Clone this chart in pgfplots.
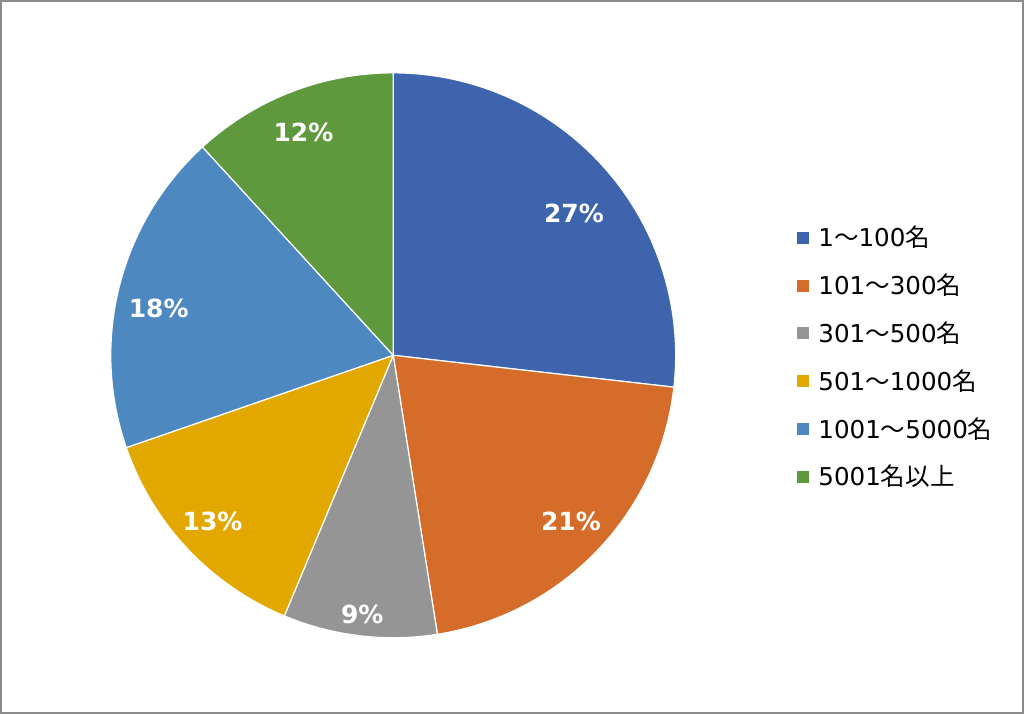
\documentclass[border=0pt]{standalone}
\usepackage{pgfplots}
\pgfplotsset{compat=1.18}
\usepackage{pgfplotstable}
\usepackage{fontspec}
\setmainfont{DejaVu Sans}
\newfontfamily\cjk{Noto Sans CJK JP}
\definecolor{pA}{HTML}{3E64AD}
\definecolor{pB}{HTML}{D56C29}
\definecolor{pC}{HTML}{959595}
\definecolor{pD}{HTML}{E3A800}
\definecolor{pE}{HTML}{4D89C0}
\definecolor{pF}{HTML}{5F993E}
\definecolor{frame}{HTML}{8C8C8C}
\pgfplotstableread{
share color
26.8 pA
20.7 pB
8.8 pC
13.4 pD
18.5 pE
11.8 pF
}\piedata
\begin{document}
\begin{tikzpicture}
\begin{axis}[
  scale only axis, width=512pt, height=356.5pt,
  xmin=0, xmax=1024, ymin=0, ymax=713,
  ticks=none, clip=false,
  axis line style={frame, line width=1pt},
  legend style={at={(axis cs:797,491)}, anchor=north west, draw=none, fill=none,
    font=\fontsize{12.3}{13.5}\selectfont, row sep=9.1pt, inner sep=0pt,
    nodes={inner sep=1.5pt}},
  legend cell align=left,
  legend image code/.code={\fill[#1, draw=none] (0pt,-3pt) rectangle (6pt,3pt); \path (9pt,0pt);},
]
\def\cum{0}
\pgfplotsforeachungrouped \i in {0,...,5}{%
  \pgfplotstablegetelem{\i}{share}\of\piedata \let\v\pgfplotsretval
  \pgfplotstablegetelem{\i}{color}\of\piedata \let\c\pgfplotsretval
  \pgfmathsetmacro\a{90-3.6*\cum}%
  \pgfmathsetmacro\b{90-3.6*(\cum+\v)}%
  \edef\temp{\noexpand\addplot[fill=\c, draw=white, line width=0.6pt, domain=\b:\a, samples=90] ({393+283*cos(x)},{358+283*sin(x)}) -- (axis cs:393,358) -- cycle;}%
  \temp
  \pgfmathsetmacro\cum{\cum+\v}%
}
\legend{1{\cjk ～}100{\cjk 名}, 101{\cjk ～}300{\cjk 名}, 301{\cjk ～}500{\cjk 名}, 501{\cjk ～}1000{\cjk 名}, 1001{\cjk ～}5000{\cjk 名}, 5001{\cjk 名以上}}
\begin{scope}[every node/.style={text=white, font=\fontsize{12.5}{14}\selectfont\bfseries}]
\node at (axis cs:574,500) {27\%};
\node at (axis cs:571,192) {21\%};
\node at (axis cs:362,98) {9\%};
\node at (axis cs:212,192) {13\%};
\node at (axis cs:158,405) {18\%};
\node at (axis cs:303,581) {12\%};
\end{scope}
\end{axis}
\end{tikzpicture}
\end{document}
